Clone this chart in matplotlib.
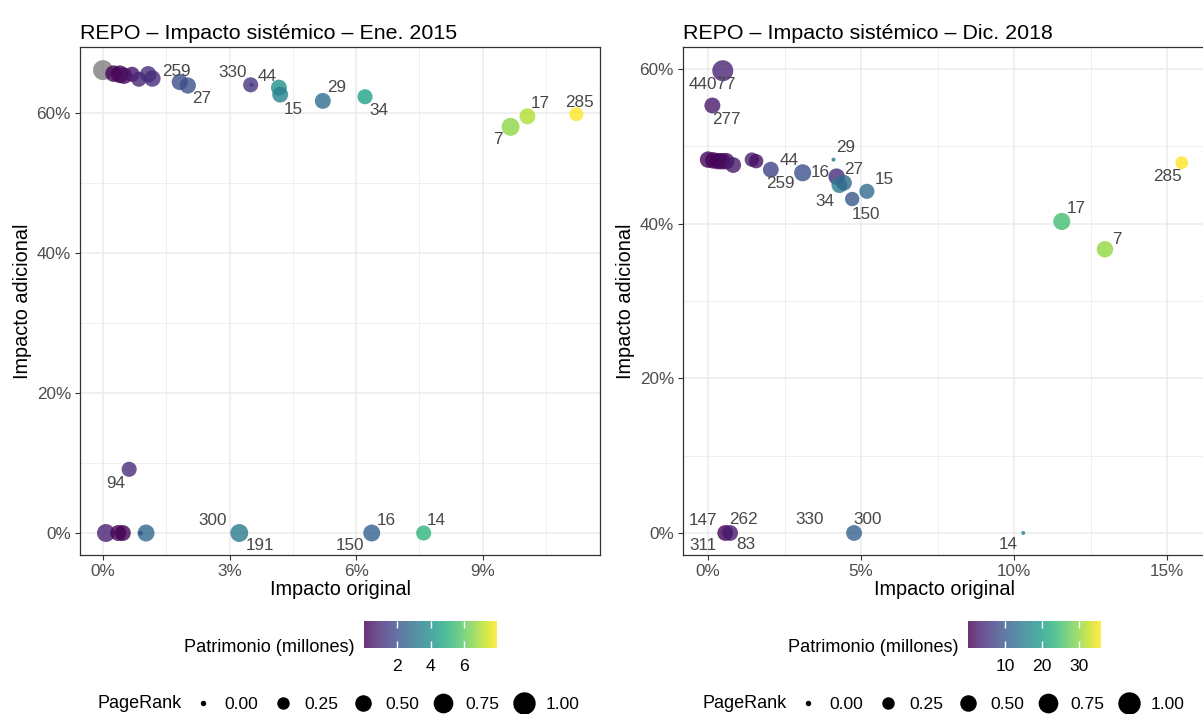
import numpy as np
import matplotlib
matplotlib.use("Agg")
from matplotlib import pyplot as plt
from matplotlib.lines import Line2D
from matplotlib.ticker import FuncFormatter, MultipleLocator
import matplotlib.colors as mcolors
import matplotlib.cm as cm

plt.rcParams['font.family'] = ['Liberation Sans', 'DejaVu Sans']

# ---- Ene. 2015 ----
ene_x = [0.00, 0.25, 0.40, 0.50, 0.69, 0.85, 1.07, 1.17, 1.82, 2.01, 3.50, 3.52, 4.17, 4.20, 5.21, 6.21,
         9.66, 10.06, 11.22, 0.62, 0.07, 0.36, 0.47, 0.89, 1.02, 3.23, 6.37, 7.60]
ene_y = [66.1, 65.6, 65.5, 65.3, 65.5, 64.8, 65.5, 64.9, 64.4, 63.9, 64.0, 64.0, 63.6, 62.6, 61.7, 62.3,
         58.0, 59.5, 59.8, 9.1, 0.0, 0.0, 0.0, 0.0, 0.0, 0.0, 0.0, 0.0]
ene_patrimonio = [np.nan, 0.10, 0.08, 0.30, 0.50, 0.90, 1.10, 1.00, 1.90, 2.00, 1.30, 1.30, 4.00, 3.60, 2.90, 4.60,
                  6.60, 7.00, 7.92, 1.00, 0.80, 0.20, 0.10, 0.20, 2.70, 3.30, 2.50, 5.20]
ene_pagerank = [0.90, 0.60, 0.70, 0.60, 0.50, 0.50, 0.60, 0.60, 0.58, 0.58, 0.50, 0.0, 0.56, 0.56, 0.56, 0.50,
                0.72, 0.56, 0.42, 0.50, 0.72, 0.56, 0.56, 0.02, 0.64, 0.72, 0.64, 0.50]
ene_labels = ['', '', '', '', '', '', '', '', '259', '27', '330', '44', '', '15', '29', '34',
              '7', '17', '285', '94', '', '', '', '', '', '300\n191', '16\n150', '14']

# ---- Dic. 2018 ----
dic_x = [0.48, 0.14, 0.00, 0.17, 0.33, 0.46, 0.59, 0.82, 1.43, 1.57, 2.05, 3.09, 4.10, 4.20, 4.29, 4.44,
         4.71, 5.19, 11.56, 12.97, 15.48, 0.56, 0.72, 4.77, 10.30]
dic_y = [59.8, 55.3, 48.3, 48.2, 48.1, 48.1, 48.1, 47.6, 48.3, 48.1, 47.0, 46.6, 48.3, 46.1, 45.0, 45.3,
         43.2, 44.2, 40.3, 36.7, 47.9, 0.0, 0.0, 0.0, 0.0]
dic_patrimonio = [3.5, 2.5, 0.5, 0.3, 0.2, 0.5, 1.0, 2.5, 3.0, 1.5, 7.0, 9.0, 14.0, 4.3, 15.0, 12.0,
                  9.7, 12.5, 25.0, 30.0, 35.8, 0.3, 2.5, 11.0, 16.0]
dic_pagerank = [1.00, 0.56, 0.60, 0.60, 0.60, 0.60, 0.60, 0.55, 0.45, 0.45, 0.55, 0.65, 0.00, 0.60, 0.55, 0.55,
                0.45, 0.50, 0.65, 0.60, 0.35, 0.55, 0.55, 0.55, 0.00]
dic_labels = ['44077', '277', '', '', '', '', '', '', '', '', '44\n259', '16', '29', '27', '34', '',
              '150', '15', '17', '7', '285', '147\n311', '262\n83', '330\n300', '14']

# label offsets in pixels, one per label line (ggrepel placement)
ene_offsets = {'259': (-3, 11), '27': (14, -13), '330': (-18, 12), '44': (16, 8), '15': (13, -15),
               '29': (14, 13), '34': (14, -14), '7': (-13, -13), '17': (13, 13), '285': (3, 12),
               '94': (-13, -14), '300': (-27, 13), '191': (21, -12), '16': (15, 13), '150': (-22, -12),
               '14': (13, 13)}
dic_offsets = {'44077': (-10, -14), '277': (14, -14), '44': (18, 9), '259': (10, -14), '16': (18, 0),
               '29': (12, 12), '27': (17, 7), '34': (-14, -16), '150': (14, -15), '15': (17, 12),
               '17': (14, 13), '7': (12, 10), '285': (-14, -14), '147': (-22, 12), '311': (-22, -13),
               '262': (13, 13), '83': (16, -12), '330': (-44, 13), '300': (14, 13), '14': (-15, -12)}

pr_ticks = [0.00, 0.25, 0.50, 0.75, 1.00]

W, H = 1203, 714
fig = plt.figure(figsize=(W / 100, H / 100), dpi=100)

TXT = '#4d4d4d'
GRID = '#ebebeb'


def size_of(pr):
    # area grows linearly with PageRank, diameter 4px..21px
    d2 = 16 + 425 * np.asarray(pr)
    return d2 * 0.72 ** 2


def panel(rect, xs, ys, pat, pr, labels, offsets, title, xlim, ylim, xmaj, xmin, vmax):
    ax = fig.add_axes(rect)
    norm = mcolors.Normalize(vmin=0 if vmax > 10 else 0.08, vmax=vmax)
    cmap = plt.get_cmap('viridis').copy()
    cmap.set_bad('#7f7f7f')
    pat = np.ma.masked_invalid(np.asarray(pat, dtype=float))
    ax.scatter(xs, ys, c=pat, cmap=cmap, norm=norm, s=size_of(pr), alpha=0.8,
               edgecolors='none', plotnonfinite=True, zorder=3)
    for x, y, lab in zip(xs, ys, labels):
        for part in lab.split('\n'):
            if part == '':
                continue
            dx, dy = offsets[part]
            ax.annotate(part, (x, y), xytext=(dx, dy), textcoords='offset pixels',
                        ha='center', va='center', fontsize=12.3, color='#474747', zorder=4)
    ax.set_xlim(*xlim)
    ax.set_ylim(*ylim)
    ax.xaxis.set_major_locator(MultipleLocator(xmaj))
    ax.xaxis.set_minor_locator(MultipleLocator(xmin))
    ax.yaxis.set_major_locator(MultipleLocator(20))
    ax.yaxis.set_minor_locator(MultipleLocator(10))
    ax.xaxis.set_major_formatter(FuncFormatter(lambda v, p: f"{v:.0f}%"))
    ax.yaxis.set_major_formatter(FuncFormatter(lambda v, p: f"{v:.0f}%"))
    ax.grid(which='major', color=GRID, linewidth=1.1, zorder=0)
    ax.grid(which='minor', color=GRID, linewidth=0.55, zorder=0)
    ax.set_axisbelow(True)
    ax.tick_params(which='major', length=3.5, width=0.8, color='#333333', labelsize=12.3,
                   labelcolor=TXT, pad=3)
    ax.tick_params(which='minor', length=0)
    for s in ax.spines.values():
        s.set_color('#333333')
        s.set_linewidth(0.9)
    ax.set_xlabel('Impacto original', fontsize=14.3, labelpad=1)
    ax.set_ylabel('Impacto adicional', fontsize=14.3, labelpad=3)
    ax.set_title(title, loc='left', fontsize=15.4, pad=6)
    return ax, norm, cmap


axL, normL, cmapL = panel([80 / W, 159 / H, 520 / W, 508 / H], ene_x, ene_y, ene_patrimonio, ene_pagerank,
                          ene_labels, ene_offsets, 'REPO – Impacto sistémico – Ene. 2015',
                          (-0.545, 11.78), (-3.14, 69.4), 3, 1.5, 7.92)
axR, normR, cmapR = panel([683 / W, 159 / H, 522 / W, 508 / H], dic_x, dic_y, dic_patrimonio, dic_pagerank,
                          dic_labels, dic_offsets, 'REPO – Impacto sistémico – Dic. 2018',
                          (-0.82, 16.24), (-2.85, 62.87), 5, 2.5, 35.8)


def colorbar(x0, norm, cmap, ticks, title_right):
    cax = fig.add_axes([x0 / W, (H - 648) / H, 133 / W, 27 / H])
    cb = fig.colorbar(cm.ScalarMappable(norm=norm, cmap=cmap), cax=cax, orientation='horizontal',
                      alpha=0.8)
    cb.outline.set_visible(False)
    cb.set_ticks(ticks)
    cax.tick_params(axis='x', direction='in', length=5, width=1, color='white', labelsize=12.6,
                    labelcolor='black', pad=8, bottom=True, top=True)
    fig.text(title_right / W, 1 - 648 / H, 'Patrimonio (millones)', ha='right', va='center', fontsize=13.1)


colorbar(364, normL, cmapL, [2, 4, 6], 355)
colorbar(968, normR, cmapR, [10, 20, 30], 958)


def pr_legend(x_title, x_first):
    fig.text(x_title / W, 1 - 704 / H, 'PageRank', ha='left', va='center', fontsize=13)
    handles = [Line2D([], [], linestyle='none', marker='o', color='black',
                      markersize=np.sqrt(16 + 425 * v) * 0.72) for v in pr_ticks]
    fig.legend(handles, [f"{v:.2f}" for v in pr_ticks], loc='center left',
               bbox_to_anchor=(x_first / W, 1 - 704 / H), ncol=5, frameon=False, fontsize=12.6,
               handlelength=1.1, handletextpad=0.7, columnspacing=0.85, borderpad=0, borderaxespad=0)


pr_legend(97, 193)
pr_legend(702, 798)

fig.savefig('out.png', dpi=100)
